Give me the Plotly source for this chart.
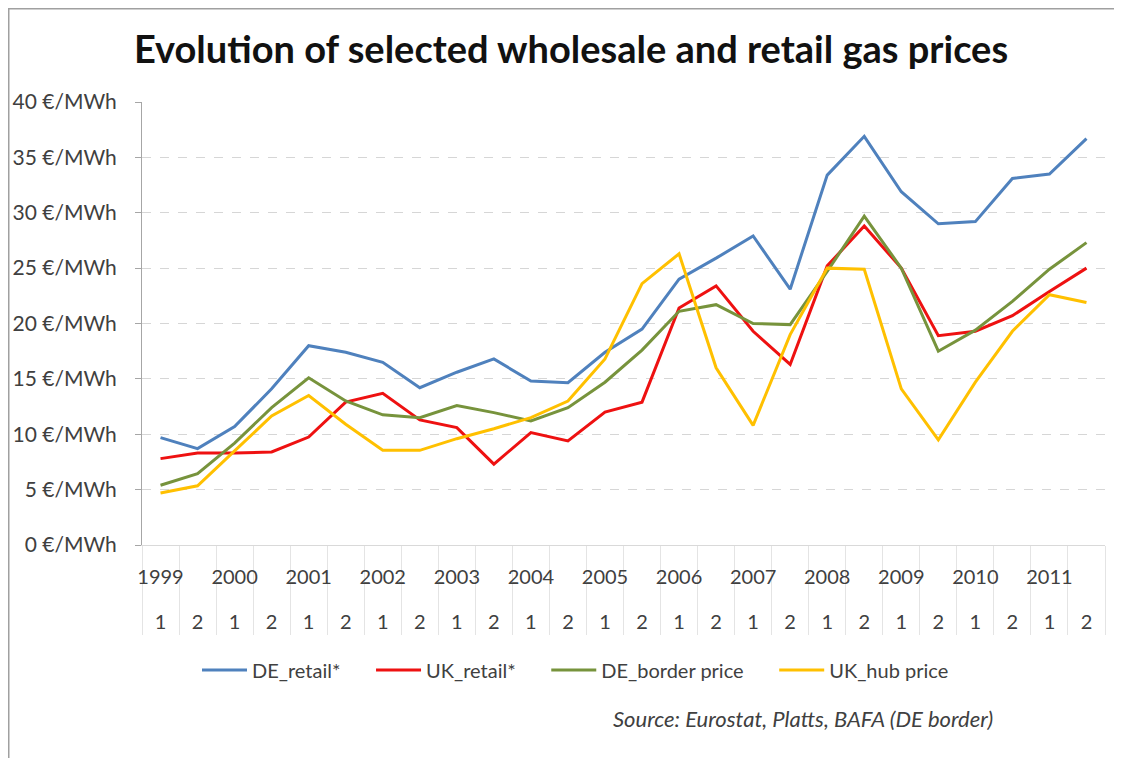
import plotly.graph_objects as go

years = ["1999", "2000", "2001", "2002", "2003", "2004", "2005",
         "2006", "2007", "2008", "2009", "2010", "2011"]
halves = ["1", "2"]
periods = [(y, h) for y in years for h in halves]

de_retail = [9.7, 8.7, 10.7, 14.1, 18.0, 17.4, 16.5, 14.2, 15.6, 16.8, 14.8, 14.65, 17.4,
             19.5, 24.0, 25.9, 27.9, 23.1, 33.4, 36.9, 31.9, 29.0, 29.2, 33.1, 33.5, 36.7]
uk_retail = [7.8, 8.3, 8.3, 8.4, 9.75, 12.9, 13.7, 11.3, 10.6, 7.3, 10.15, 9.4, 12.0,
             12.9, 21.4, 23.4, 19.3, 16.3, 25.2, 28.8, 25.0, 18.9, 19.3, 20.7, 22.9, 25.0]
de_border = [5.4, 6.45, 9.2, 12.4, 15.1, 13.0, 11.75, 11.5, 12.6, 11.95, 11.2, 12.4, 14.7,
             17.6, 21.1, 21.7, 20.0, 19.9, 24.7, 29.7, 25.0, 17.5, 19.4, 22.0, 24.9, 27.3]
uk_hub = [4.7, 5.35, 8.5, 11.65, 13.5, 10.9, 8.55, 8.55, 9.6, 10.5, 11.5, 13.0, 16.8,
          23.6, 26.3, 16.0, 10.8, 19.0, 25.0, 24.9, 14.1, 9.5, 14.7, 19.3, 22.6, 21.9]

series = [
    ("DE_retail*", de_retail, "#4F81BD"),
    ("UK_retail*", uk_retail, "#EE1111"),
    ("DE_border price", de_border, "#77933C"),
    ("UK_hub price", uk_hub, "#FFC000"),
]

xs = list(range(len(periods)))
n = len(periods)

PAD = "\u00a0" * 5  # extra spacing between legend entries

fig = go.Figure()
for k, (name, vals, color) in enumerate(series):
    label = name + (PAD if k < len(series) - 1 else "")
    fig.add_trace(go.Scatter(x=xs, y=vals, name=label, mode="lines",
                             line=dict(color=color, width=3)))
# carrier for the half-year axis (invisible)
fig.add_trace(go.Scatter(x=xs, y=de_retail, xaxis="x2", mode="lines",
                         line=dict(width=0), opacity=0, showlegend=False,
                         hoverinfo="skip"))

W, H = 1122, 758
OFF = 8  # page body margin
left, right = 142 - OFF, 1105 - OFF
top, plot_bottom, paper_bottom = 102 - OFF, 545 - OFF, 650 - OFF
paper_h = paper_bottom - top
plot_w = right - left
dom0 = (paper_bottom - plot_bottom) / paper_h

FONT = "Lato, 'Open Sans', sans-serif"
TXT = "#404040"

fig.update_layout(
    width=W, height=H,
    margin=dict(l=left, r=W - right, t=top, b=H - paper_bottom, autoexpand=False),
    paper_bgcolor="white", plot_bgcolor="white",
    font=dict(family=FONT, color=TXT, size=20),
    title=dict(text="<b>Evolution of selected wholesale and retail gas prices</b>",
               x=(571 - OFF) / W, xanchor="center", y=1 - (50 - OFF) / H,
               yanchor="middle",
               font=dict(family=FONT, size=38, color="#111111")),
    yaxis=dict(domain=[dom0, 1], range=[0, 40], dtick=5, tick0=0,
               automargin=False,
               ticksuffix=" €/MWh", showgrid=True, gridcolor="#d6d6d6",
               griddash="dash", gridwidth=1, zeroline=False,
               showline=True, linecolor="#a6a6a6", linewidth=1,
               ticks="outside", ticklen=6, tickcolor="#a6a6a6",
               ticklabelstandoff=14, tickfont=dict(size=21, color=TXT)),
    xaxis=dict(range=[-0.5, n - 0.5], tickmode="array", automargin=False,
               tickvals=xs[::2], ticktext=years,
               showgrid=False, zeroline=False, showline=True,
               linecolor="#d9d9d9", linewidth=1, ticks="",
               ticklabelstandoff=14, tickfont=dict(size=20, color=TXT),
               minor=dict(tickmode="array",
                          tickvals=[i - 0.5 for i in range(n + 1)],
                          ticks="outside", ticklen=89, tickcolor="#e4e4e4",
                          tickwidth=1)),
    xaxis2=dict(overlaying="x", anchor="free", automargin=False,
                position=(paper_bottom - (596 - OFF)) / paper_h,
                range=[-0.5, n - 0.5], tickmode="array", tickvals=xs,
                ticktext=[h for _, h in periods], showgrid=False,
                zeroline=False, showline=False, ticks="",
                ticklabelstandoff=12, tickfont=dict(size=20, color=TXT)),
    legend=dict(orientation="h", xref="container", yref="container",
                x=(575.5 - OFF) / W, xanchor="center",
                y=1 - (670 - OFF) / H, yanchor="middle",
                font=dict(family=FONT, size=20, color=TXT),
                itemwidth=45,
                bgcolor="rgba(0,0,0,0)"),
    showlegend=True,
)

fig.add_annotation(text="<i>Source: Eurostat, Platts, BAFA (DE border)</i>",
                   xref="paper", yref="paper",
                   x=(995 - OFF - left) / plot_w, xanchor="right",
                   y=-(718 - OFF - paper_bottom) / paper_h, yanchor="middle",
                   showarrow=False, font=dict(family=FONT, size=22, color=TXT))

# outer chart frame (top and left edges visible)
fig.add_shape(type="rect", xref="paper", yref="paper",
              x0=(0.75 - left) / plot_w, x1=1.3,
              y0=-0.5, y1=(paper_bottom - 0.75) / paper_h,
              line=dict(color="#a0a0a0", width=1.5), layer="below")

fig.write_html("out.html")
